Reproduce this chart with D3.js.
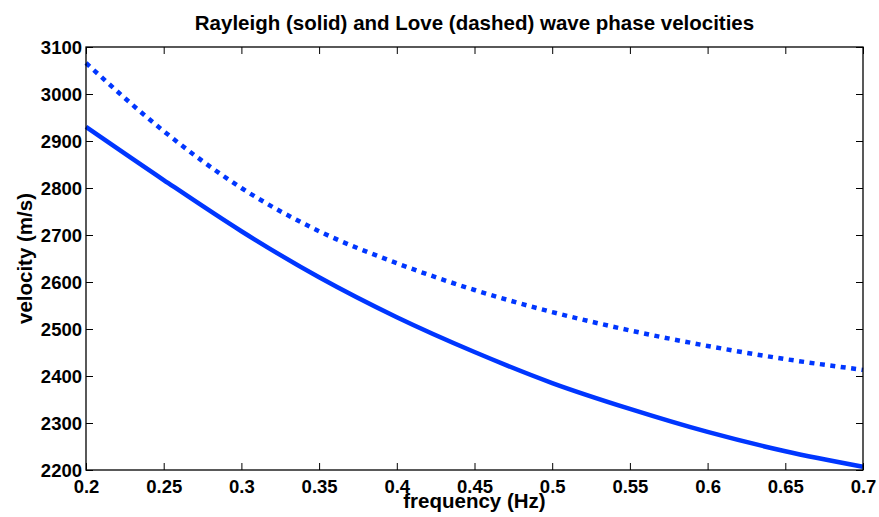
<!DOCTYPE html>
<html>
<head>
<meta charset="utf-8">
<script src="https://cdn.jsdelivr.net/npm/d3@7"></script>
<style>
  body { margin: 0; background: #fff; }
  svg { display: block; }
  text { font-family: "Liberation Sans", Arial, Helvetica, sans-serif; font-weight: bold; fill: #000; }
</style>
</head>
<body>
<svg id="chart" width="879" height="517"></svg>
<script>
// frequencies (Hz) and phase velocities (m/s)
const frequency = [0.2, 0.25, 0.3, 0.35, 0.4, 0.45, 0.5, 0.55, 0.6, 0.65, 0.7];
const rayleigh = [2930, 2817, 2708, 2610, 2525, 2451, 2385, 2330, 2281, 2240, 2207];
const love = [3066, 2921, 2800, 2708, 2640, 2583, 2536, 2497, 2464, 2436, 2413];

const xTicks = [0.2, 0.25, 0.3, 0.35, 0.4, 0.45, 0.5, 0.55, 0.6, 0.65, 0.7];
const yTicks = [2200, 2300, 2400, 2500, 2600, 2700, 2800, 2900, 3000, 3100];

const title = "Rayleigh (solid) and Love (dashed) wave phase velocities";
const xLabel = "frequency (Hz)";
const yLabel = "velocity (m/s)";

const margin = { top: 47, right: 16, bottom: 47, left: 86 };
const W = 879, H = 517;
const innerW = W - margin.left - margin.right;
const innerH = H - margin.top - margin.bottom;
const lineColor = "#0036ff";
const tickLen = 7;
const tickFont = 18.5;
const labelFont = 20.5;

let svg = d3.select("#chart");
let g = svg.append("g").attr("transform", "translate(" + margin.left + "," + margin.top + ")");

let x = d3.scaleLinear().domain([0.2, 0.7]).range([0, innerW]);
let y = d3.scaleLinear().domain([2200, 3100]).range([innerH, 0]);

// series
let line = d3.line()
    .x(d => x(d[0]))
    .y(d => y(d[1]))
    .curve(d3.curveMonotoneX);

g.append("path")
    .datum(d3.zip(frequency, rayleigh))
    .attr("d", line)
    .attr("fill", "none")
    .attr("stroke", lineColor)
    .attr("stroke-width", 4.5);

g.append("path")
    .datum(d3.zip(frequency, love))
    .attr("d", line)
    .attr("fill", "none")
    .attr("stroke", lineColor)
    .attr("stroke-width", 4.5)
    .attr("stroke-dasharray", "5,5.5");

// axes: ticks inward on all four sides
let fmtX = d => String(d);
let axBottom = g.append("g").attr("transform", "translate(0," + innerH + ")")
    .call(d3.axisBottom(x).tickValues(xTicks).tickSizeInner(-tickLen).tickSizeOuter(0).tickPadding(10).tickFormat(fmtX));
let axTop = g.append("g")
    .call(d3.axisTop(x).tickValues(xTicks).tickSizeInner(-tickLen).tickSizeOuter(0).tickFormat(""));
let axLeft = g.append("g")
    .call(d3.axisLeft(y).tickValues(yTicks).tickSizeInner(-tickLen).tickSizeOuter(0).tickPadding(4).tickFormat(d3.format("d")));
let axRight = g.append("g").attr("transform", "translate(" + innerW + ",0)")
    .call(d3.axisRight(y).tickValues(yTicks).tickSizeInner(-tickLen).tickSizeOuter(0).tickFormat(""));

[axBottom, axTop, axLeft, axRight].forEach(a => {
    a.select(".domain").remove();
    a.selectAll(".tick line").attr("stroke", "#000").attr("stroke-width", 1);
});
axBottom.selectAll(".tick text").attr("font-size", tickFont).attr("dy", "0.71em")
    .attr("font-family", "Liberation Sans, Arial, sans-serif").attr("font-weight", "bold");
axLeft.selectAll(".tick text").attr("font-size", tickFont).attr("dy", "0.35em")
    .attr("font-family", "Liberation Sans, Arial, sans-serif").attr("font-weight", "bold");

g.append("rect")
    .attr("width", innerW)
    .attr("height", innerH)
    .attr("fill", "none")
    .attr("stroke", "#000")
    .attr("stroke-width", 1.3);

// labels
svg.append("text")
    .attr("x", margin.left + innerW / 2)
    .attr("y", 30)
    .attr("text-anchor", "middle")
    .attr("font-size", labelFont)
    .text(title);

svg.append("text")
    .attr("x", margin.left + innerW / 2)
    .attr("y", 508)
    .attr("text-anchor", "middle")
    .attr("font-size", labelFont)
    .text(xLabel);

svg.append("text")
    .attr("transform", "translate(32," + (margin.top + innerH / 2) + ") rotate(-90)")
    .attr("text-anchor", "middle")
    .attr("font-size", labelFont)
    .text(yLabel);
</script>
</body>
</html>
